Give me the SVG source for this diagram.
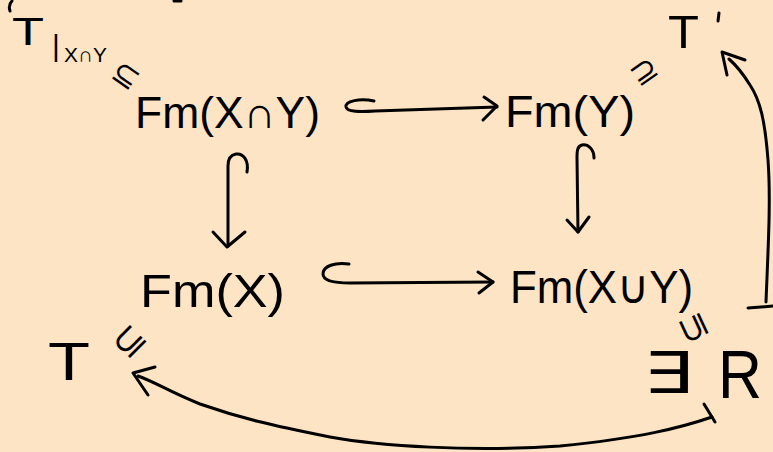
<svg xmlns="http://www.w3.org/2000/svg" width="773" height="452" viewBox="0 0 773 452">
  <style>
    .lbl { font-family: "Liberation Sans", "DejaVu Sans", sans-serif; fill: #000; }
    .sym { font-family: "DejaVu Sans", "Liberation Sans", sans-serif; fill: #000; }
    .ln { fill: none; stroke: #000; stroke-width: 3; stroke-linecap: round; stroke-linejoin: round; }
  </style>
  <rect x="0" y="0" width="773" height="452" fill="#FDE4C4"/>

  <!-- cut-off fragments at top edge -->
  <path class="ln" d="M12,1 C9,4 9,8 10,11"/>
  <path class="ln" d="M174,1 L181,1"/>

  <g id="node-TXY">
    <text class="lbl" x="12" y="45" font-size="38" textLength="32" lengthAdjust="spacingAndGlyphs">T</text>
    <text class="lbl" x="52" y="56" font-size="30">|</text>
    <text class="lbl" x="64" y="62" font-size="21" textLength="43" lengthAdjust="spacingAndGlyphs">X∩Y</text>
    <text class="sym" font-size="32" text-anchor="middle" transform="translate(120,84) rotate(35)">⊆</text>
  </g>

  <g id="node-FmXY">
    <text class="lbl" x="135" y="128" font-size="44" textLength="185" lengthAdjust="spacingAndGlyphs">Fm(X∩Y)</text>
  </g>

  <g id="node-FmY">
    <text class="lbl" x="505" y="127" font-size="44" textLength="130" lengthAdjust="spacingAndGlyphs">Fm(Y)</text>
    <text class="sym" font-size="32" text-anchor="middle" transform="translate(650,80) rotate(-35)">⊇</text>
  </g>

  <g id="node-Tprime">
    <text class="lbl" x="668" y="48" font-size="46" textLength="31" lengthAdjust="spacingAndGlyphs">T</text>
    <path class="ln" d="M719,13 L718,21"/>
  </g>

  <g id="node-FmX">
    <text class="lbl" x="140" y="307" font-size="46" textLength="145" lengthAdjust="spacingAndGlyphs">Fm(X)</text>
  </g>

  <g id="node-FmXuY">
    <text class="lbl" x="510" y="303" font-size="46" textLength="183" lengthAdjust="spacingAndGlyphs">Fm(X∪Y)</text>
    <text class="sym" font-size="36" text-anchor="middle" transform="translate(704,323) rotate(-115)">⊆</text>
  </g>

  <g id="node-T">
    <text class="lbl" x="48" y="380" font-size="54" textLength="42" lengthAdjust="spacingAndGlyphs">T</text>
    <text class="sym" font-size="38" text-anchor="middle" transform="translate(138,350) rotate(-45)">⊆</text>
  </g>

  <g id="node-R">
    <text class="sym" x="643" y="393" font-size="58" textLength="50" lengthAdjust="spacingAndGlyphs">∃</text>
    <text class="lbl" x="718" y="398" font-size="68" textLength="44" lengthAdjust="spacingAndGlyphs">R</text>
  </g>

  <g id="connectors">
    <!-- Fm(X∩Y) hook arrow to Fm(Y) -->
    <path class="ln" d="M374,101 C360,98 345,101 346,107 C347,112 360,112 375,111 L497,107"/>
    <path class="ln" d="M484,97 L497,106 L483,120"/>
    <!-- Fm(X∩Y) down to Fm(X) -->
    <path class="ln" d="M247,172 C249,160 243,153 236,154 C230,155 228,160 228,166 L228,246"/>
    <path class="ln" d="M213,232 L227,247 L245,232"/>
    <!-- Fm(Y) down to Fm(X∪Y) -->
    <path class="ln" d="M594,158 C594,149 588,144 582,145 C577,146 577,152 577,158 L578,232"/>
    <path class="ln" d="M567,220 L578,232 L589,217"/>
    <!-- Fm(X) hook arrow to Fm(X∪Y) -->
    <path class="ln" d="M349,264 C335,262 323,266 323,274 C323,281 335,283 350,283 L493,282"/>
    <path class="ln" d="M478,272 L493,282 L479,293"/>
    <!-- R to T -->
    <path class="ln" d="M704,404 L715,422"/>
    <path class="ln" d="M712,417 C680,428 640,438 560,446 C470,452 380,446 330,437 C270,425 240,418 200,404 C170,392 155,382 138,376"/>
    <path class="ln" d="M155,367 L133,373 L148,395"/>
    <!-- R to T' -->
    <path class="ln" d="M748,308 L773,306"/>
    <path class="ln" d="M766,302 C768,250 771,200 768,160 C765,120 760,100 750,85 C742,72 737,66 729,59"/>
    <path class="ln" d="M745,60 L722,52 L727,75"/>
  </g>
</svg>
